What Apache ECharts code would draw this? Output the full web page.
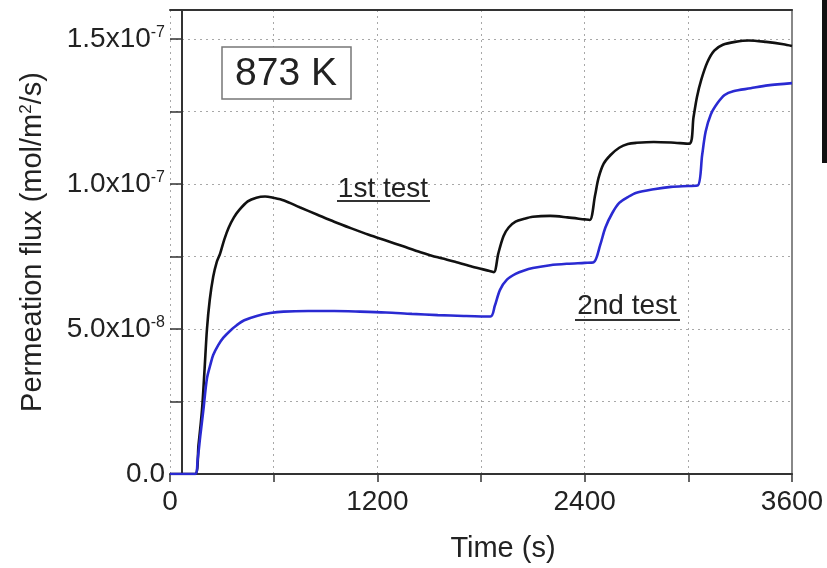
<!DOCTYPE html>
<html>
<head>
<meta charset="utf-8">
<script src="https://cdn.jsdelivr.net/npm/echarts@6/dist/echarts.min.js"></script>
<style>html,body{margin:0;padding:0;background:#fff;}#chart{width:827px;height:568px;}</style>
</head>
<body>
<div id="chart"></div>
<script>
// Flux values in units of 1e-8 mol/m^2/s
const timeFirst = [0,145,165,185,200,214,230,250,270,290,315,340,370,400,450,500,550,600,660,750,850,950,1050,1150,1250,1350,1450,1550,1650,1750,1850,1875,1900,1930,1960,2000,2050,2100,2200,2300,2400,2430,2460,2480,2510,2550,2600,2650,2700,2800,2900,3005,3030,3050,3075,3110,3150,3200,3270,3350,3450,3550,3600];
const fluxFirst = [0,0,1.0,2.2,3.6,5.0,6.0,6.8,7.3,7.6,8.1,8.5,8.85,9.1,9.4,9.53,9.57,9.52,9.43,9.2,8.95,8.7,8.47,8.25,8.05,7.85,7.65,7.47,7.32,7.15,7.0,6.96,7.6,8.2,8.5,8.7,8.8,8.87,8.9,8.85,8.78,8.76,9.6,10.2,10.7,11.0,11.25,11.38,11.42,11.45,11.43,11.39,12.3,13.0,13.6,14.2,14.6,14.8,14.9,14.95,14.9,14.82,14.76];

const timeSecond = [0,145,160,175,193,214,235,250,280,309,350,386,430,502,580,657,800,950,1100,1250,1400,1550,1700,1855,1880,1910,1950,2000,2050,2100,2200,2300,2400,2452,2490,2520,2560,2600,2650,2700,2800,2900,3000,3055,3080,3100,3130,3170,3210,3260,3360,3460,3600];
const fluxSecond = [0,0,0.5,1.3,2.2,3.3,3.8,4.1,4.45,4.7,4.95,5.13,5.3,5.45,5.55,5.6,5.62,5.62,5.6,5.57,5.52,5.48,5.45,5.43,5.8,6.35,6.7,6.9,7.02,7.1,7.2,7.25,7.28,7.3,7.9,8.5,9.0,9.35,9.55,9.7,9.82,9.9,9.93,9.95,11.0,11.8,12.4,12.8,13.07,13.2,13.3,13.4,13.48];

const xLabelValues = [0,1200,2400,3600];
const yLabelValues = [0,5,10,15];
const yLabelMantissa = ['0.0','5.0','1.0','1.5'];
const yLabelExponent = ['','-8','-7','-7'];

const FONT = '"Liberation Sans", Arial, sans-serif';

function pairs(t, v){ return t.map((x,i)=>[x, v[i]]); }

const chart = echarts.init(document.getElementById('chart'), null, {renderer:'canvas'});
const dotted = {show:true, lineStyle:{color:'#a8a8a8', width:1, type:[2,4]}};

chart.setOption({
  backgroundColor:'#ffffff',
  animation:false,
  grid:{left:170, right:35, top:10, bottom:92, containLabel:false},
  xAxis:[{
    type:'value', min:0, max:3600, interval:600, position:'bottom',
    name:'Time (s)', nameLocation:'middle', nameGap:60,
    nameTextStyle:{fontSize:29, color:'#222', fontFamily:FONT, padding:[0,0,0,44]},
    axisLine:{show:true, onZero:false, lineStyle:{color:'#333', width:2}},
    axisTick:{show:true, inside:false, length:8, lineStyle:{color:'#333', width:1.5}},
    axisLabel:{fontSize:28, color:'#222', fontFamily:FONT, margin:14,
      formatter:v=> xLabelValues.indexOf(v)>=0 ? String(v) : ''},
    splitLine:dotted
  },{
    type:'value', min:0, max:3600, position:'top',
    axisLine:{show:true, onZero:false, lineStyle:{color:'#333', width:2}},
    axisTick:{show:false}, axisLabel:{show:false}, splitLine:{show:false}
  }],
  yAxis:[{
    type:'value', min:0, max:16, interval:2.5, position:'left', offset:-12,
    name:'Permeation flux (mol/m{sup|2}/s)', nameLocation:'middle', nameGap:135, nameRotate:90,
    nameTextStyle:{fontSize:29, color:'#222', fontFamily:FONT,
      rich:{sup:{fontSize:17, verticalAlign:'top', fontFamily:FONT, color:'#222'}}},
    axisLine:{show:true, onZero:false, lineStyle:{color:'#333', width:2}},
    axisTick:{show:true, inside:false, length:12, lineStyle:{color:'#333', width:1.5}},
    axisLabel:{fontSize:28, color:'#222', fontFamily:FONT, margin:17,
      formatter:v=>{
        const i = yLabelValues.findIndex(x=>Math.abs(x-v)<1e-6);
        if(i<0) return '';
        return yLabelExponent[i] ? yLabelMantissa[i]+'x10{sup|'+yLabelExponent[i]+'}' : yLabelMantissa[i];
      },
      rich:{sup:{fontSize:16, verticalAlign:'top', fontFamily:FONT, color:'#222'}}
    },
    splitLine:dotted
  },{
    type:'value', min:0, max:16, position:'right',
    axisLine:{show:true, onZero:false, lineStyle:{color:'#888', width:2}},
    axisTick:{show:false}, axisLabel:{show:false}, splitLine:{show:false}
  }],
  series:[{
    name:'1st test', type:'line', xAxisIndex:0, yAxisIndex:0,
    data:pairs(timeFirst, fluxFirst), showSymbol:false, smooth:0.3,
    lineStyle:{color:'#111111', width:2.6}, z:3
  },{
    name:'2nd test', type:'line', xAxisIndex:0, yAxisIndex:0,
    data:pairs(timeSecond, fluxSecond), showSymbol:false, smooth:0.3,
    lineStyle:{color:'#2a2ad2', width:2.6}, z:3
  }],
  graphic:[
    {type:'rect', shape:{x:222, y:47, width:129, height:52}, style:{fill:'#fff', stroke:'#777', lineWidth:1.5}, z:10},
    {type:'text', x:286, y:74, style:{text:'873 K', fontSize:39, fontFamily:FONT, fill:'#222', align:'center', verticalAlign:'middle'}, z:11},
    {type:'text', x:383, y:189, style:{text:'1st test', fontSize:28, fontFamily:FONT, fill:'#222', align:'center', verticalAlign:'middle'}, z:11},
    {type:'line', shape:{x1:337, y1:201, x2:430, y2:201}, style:{stroke:'#333', lineWidth:2}, z:11},
    {type:'text', x:627, y:306, style:{text:'2nd test', fontSize:28, fontFamily:FONT, fill:'#222', align:'center', verticalAlign:'middle'}, z:11},
    {type:'line', shape:{x1:575, y1:320, x2:680, y2:320}, style:{stroke:'#333', lineWidth:2}, z:11},
    {type:'rect', shape:{x:822, y:0, width:5, height:163}, style:{fill:'#111'}, z:11}
  ]
});
</script>
</body>
</html>
